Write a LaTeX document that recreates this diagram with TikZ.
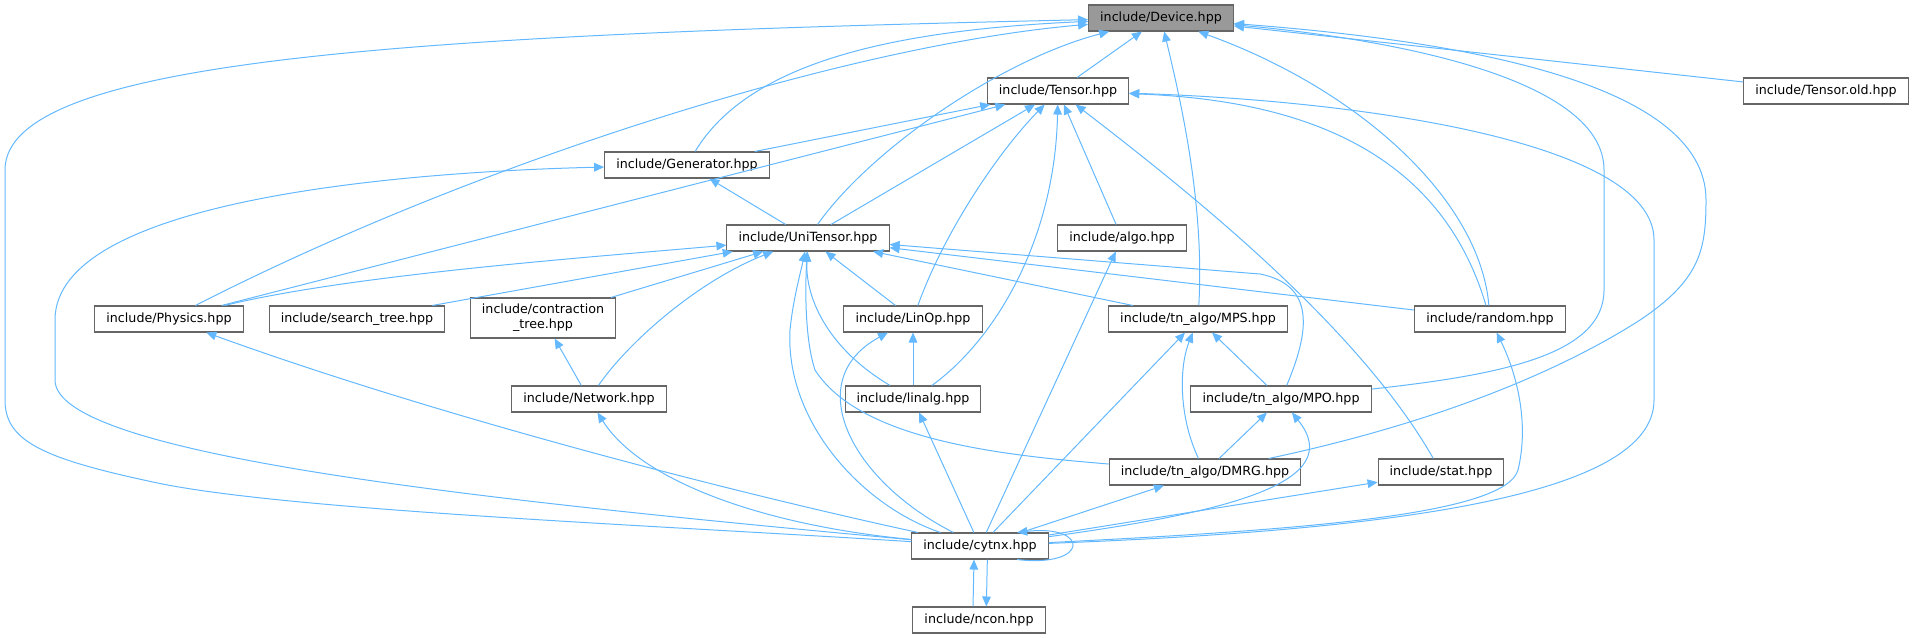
\documentclass[tikz,border=0pt]{standalone}
\usepackage{fontspec}
\setmainfont{DejaVu Sans}
\usetikzlibrary{arrows.meta}
\definecolor{edgeblue}{HTML}{63B8FF}
\definecolor{boxline}{HTML}{666666}
\definecolor{rootfill}{HTML}{999999}
\begin{document}
\begin{tikzpicture}[x=0.75pt, y=-0.75pt,
        file/.style={draw=boxline, line width=0.8pt, fill=white, minimum height=19.5pt,
            inner xsep=8.7pt, inner ysep=0pt, font=\fontsize{9.5}{11}\selectfont},
        root/.style={file, fill=rootfill},
        dep/.style={draw=edgeblue, line width=0.75pt, -{Triangle[length=7.5pt, width=6.5pt]}}]
        \useasboundingbox (0,0) rectangle (1915,637);
        \node[root] (dev) at (1161,18) {include/Device.hpp};
        \node[file] (ten) at (1058,91) {include/Tensor.hpp};
        \node[file] (told) at (1826,91) {include/Tensor.old.hpp};
        \node[file] (gen) at (687,165) {include/Generator.hpp};
        \node[file] (uni) at (808,238) {include/UniTensor.hpp};
        \node[file] (algo) at (1122,238) {include/algo.hpp};
        \node[file] (phys) at (169,319) {include/Physics.hpp};
        \node[file] (stree) at (357,319) {include/search\_tree.hpp};
        \node[file, minimum height=30pt, align=center] (ctree) at (543,318) {include/contraction\\\_tree.hpp};
        \node[file] (linop) at (913,319) {include/LinOp.hpp};
        \node[file] (mps) at (1198,319) {include/tn\_algo/MPS.hpp};
        \node[file] (rand) at (1490,319) {include/random.hpp};
        \node[file] (net) at (589,399) {include/Network.hpp};
        \node[file] (linalg) at (913,399) {include/linalg.hpp};
        \node[file] (mpo) at (1281,399) {include/tn\_algo/MPO.hpp};
        \node[file] (dmrg) at (1205,472) {include/tn\_algo/DMRG.hpp};
        \node[file] (stat) at (1441,472) {include/stat.hpp};
        \node[file] (cytnx) at (980,546) {include/cytnx.hpp};
        \node[file] (ncon) at (979,620) {include/ncon.hpp};

        \draw[dep] (ten) -- (dev);
        \draw[dep] (told) -- (dev);
        \draw[dep] (gen) .. controls (750,60) and (900,30) .. (dev);
        \draw[dep] (uni) .. controls (870,150) and (1000,60) .. (dev);
        \draw[dep] (phys) .. controls (480,160) and (850,45) .. (dev);
        \draw[dep] (cytnx) .. controls (650,525) and (280,510) .. (153,482) .. controls (40,458) and (5,440) .. (5,400) -- (5,170) .. controls (5,60) and (400,35) .. (dev);
        \draw[dep] (mps) .. controls (1205,200) and (1178,90) .. (dev);
        \draw[dep] (rand) .. controls (1480,200) and (1360,90) .. (dev);
        \draw[dep] (mpo) .. controls (1500,375) and (1604,355) .. (1604,290) -- (1604,170) .. controls (1604,80) and (1400,40) .. (dev);
        \draw[dep] (dmrg) .. controls (1450,420) and (1570,365) .. (1640,320) .. controls (1700,280) and (1706,250) .. (1706,200) .. controls (1706,80) and (1450,40) .. (dev);

        \draw[dep] (gen) -- (ten);
        \draw[dep] (phys) -- (ten);
        \draw[dep] (uni) -- (ten);
        \draw[dep] (linop) .. controls (945,230) and (1000,150) .. (ten);
        \draw[dep] (linalg) .. controls (995,340) and (1055,240) .. (ten);
        \draw[dep] (algo) -- (ten);
        \draw[dep] (stat) .. controls (1360,330) and (1200,200) .. (ten);
        \draw[dep] (rand) .. controls (1440,150) and (1300,100) .. (ten);
        \draw[dep] (cytnx) .. controls (1400,530) and (1654,495) .. (1654,400) -- (1654,240) .. controls (1654,140) and (1350,100) .. (ten);

        \draw[dep] (uni) -- (gen);
        \draw[dep] (cytnx) .. controls (480,500) and (55,455) .. (55,380) -- (55,320) .. controls (55,200) and (400,172) .. (gen);

        \draw[dep] (phys) .. controls (350,275) and (580,258) .. (uni);
        \draw[dep] (stree) -- (uni);
        \draw[dep] (ctree) -- (uni);
        \draw[dep] (net) .. controls (630,340) and (700,280) .. (uni);
        \draw[dep] (linop) -- (uni);
        \draw[dep] (linalg) .. controls (830,350) and (805,300) .. (uni);
        \draw[dep] (cytnx) .. controls (860,505) and (785,420) .. (790,330) .. controls (793,300) and (800,275) .. (uni);
        \draw[dep] (dmrg) .. controls (1000,455) and (860,440) .. (815,370) .. controls (805,340) and (805,290) .. (uni);
        \draw[dep] (mps) -- (uni);
        \draw[dep] (rand) -- (uni);
        \draw[dep] (mpo) .. controls (1310,330) and (1315,285) .. (1260,274) -- (uni);

        \draw[dep] (cytnx) -- (algo);
        \draw[dep] (linalg) -- (linop);
        \draw[dep] (cytnx) .. controls (850,480) and (800,380) .. (linop);
        \draw[dep] (cytnx) -- (linalg);
        \draw[dep] (net) -- (ctree);
        \draw[dep] (cytnx) .. controls (760,525) and (640,480) .. (net);
        \draw[dep] (cytnx) .. controls (700,485) and (420,410) .. (phys);
        \draw[dep] (cytnx) -- (mps);
        \draw[dep] (dmrg) .. controls (1180,420) and (1178,370) .. (mps);
        \draw[dep] (mpo) -- (mps);
        \draw[dep] (dmrg) -- (mpo);
        \draw[dep] (cytnx) .. controls (1230,512) and (1348,482) .. (mpo);
        \draw[dep] (cytnx) -- (dmrg);
        \draw[dep] (cytnx) -- (stat);
        \draw[dep] (cytnx) .. controls (1300,530) and (1505,515) .. (1518,470) .. controls (1530,420) and (1515,370) .. (rand);

        \draw[dep] (cytnx.-20) .. controls (1090,568) and (1090,524) .. (cytnx.20);
        \draw[dep] ([xshift=-4.5pt]ncon.north) -- ([xshift=-4.5pt]cytnx.south);
        \draw[dep] ([xshift=5.5pt]cytnx.south) -- ([xshift=5.5pt]ncon.north);
\end{tikzpicture}
\end{document}
